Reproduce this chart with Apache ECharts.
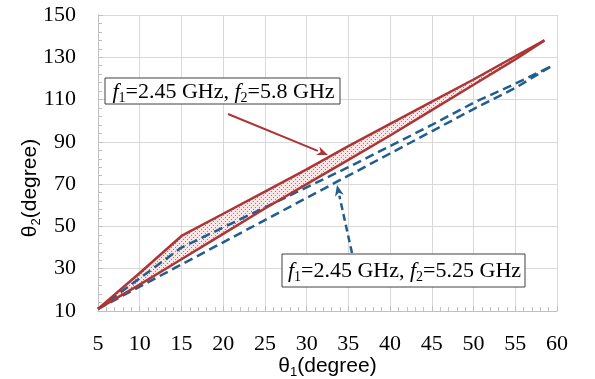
<!DOCTYPE html>
<html>
<head>
<meta charset="utf-8">
<script src="https://cdn.jsdelivr.net/npm/echarts@6/dist/echarts.min.js"></script>
<style>
  html, body { margin: 0; padding: 0; background: #fff; }
  #chart { width: 595px; height: 379px; }
</style>
</head>
<body>
<div id="chart"></div>
<script>
// theta1 samples and theta2 values
const RED_X = [5, 10, 15, 20, 25, 30, 35, 40, 45, 50, 55, 58.5];
const RED_UPPER = [11, 28, 45.5, 56, 66.5, 77, 88, 98.5, 109, 119.5, 130.5, 138];
const RED_LOWER = [11, 22.5, 34.5, 46.5, 58.5, 70, 81.5, 93, 105, 117, 129, 138];

const BLUE_X = [5, 10, 15, 20, 25, 30, 35, 40, 45, 50, 55, 59.2];
const BLUE_UPPER = [11, 25.5, 40, 49.5, 59, 68.5, 78, 88, 98, 108.5, 117.5, 125.5];
const BLUE_LOWER = [11, 21.5, 32, 42.5, 53, 63.5, 74, 84.5, 95, 105.5, 115.5, 125.5];

const Y_TICKS = [10, 30, 50, 70, 90, 110, 130, 150];
const RED_LABEL = "{i|f}{s|1}=2.45 GHz, {i|f}{s|2}=5.8 GHz";
const BLUE_LABEL = "{i|f}{s|1}=2.45 GHz, {i|f}{s|2}=5.25 GHz";

const RED = "#ad3535";
const BLUE = "#215d8f";
const GRID_COLOR = "#d9d9d9";
const AXIS_COLOR = "#bfbfbf";
const SERIF = "'Liberation Serif', 'Times New Roman', serif";
const SANS = "'Liberation Sans', Arial, sans-serif";

// minor ticks on the y axis: 5 divisions between labelled ticks
const yMinor = [];
for (let i = 0; i < Y_TICKS.length - 1; i++) {
  const step = (Y_TICKS[i + 1] - Y_TICKS[i]) / 5;
  for (let k = 1; k < 5; k++) yMinor.push(Y_TICKS[i] + k * step);
}

function pairs(xs, ys) {
  return xs.map((x, i) => [x, ys[i]]);
}

// dotted fill for the band between the red curves
function dotPattern() {
  const c = document.createElement("canvas");
  c.width = 4;
  c.height = 4;
  const ctx = c.getContext("2d");
  ctx.fillStyle = "#f7e6e6";
  ctx.fillRect(0, 0, 4, 4);
  ctx.fillStyle = "#b87272";
  ctx.fillRect(1, 1, 1, 1);
  ctx.fillRect(3, 3, 1, 1);
  return c;
}
const pattern = { image: dotPattern(), repeat: "repeat" };

function arrow(x1, y1, x2, y2, color, dashed) {
  const ang = Math.atan2(y2 - y1, x2 - x1);
  const len = 11, half = 4.5;
  const bx = x2 - Math.cos(ang) * len, by = y2 - Math.sin(ang) * len;
  const nx = -Math.sin(ang) * half, ny = Math.cos(ang) * half;
  return {
    type: "group",
    z: 100,
    children: [
      {
        type: "line",
        z: 100,
        shape: { x1: x1, y1: y1, x2: bx, y2: by },
        style: { stroke: color, lineWidth: dashed ? 2.5 : 2, lineDash: dashed ? [7, 4] : null },
      },
      {
        type: "polygon",
        z: 100,
        shape: { points: [[x2, y2], [bx + nx, by + ny], [bx + Math.cos(ang) * 3, by + Math.sin(ang) * 3], [bx - nx, by - ny]] },
        style: { fill: color },
      },
    ],
  };
}

function labelBox(x, y, w, h, text) {
  const rich = {
    i: { fontFamily: SERIF, fontSize: 22, fontStyle: "italic", lineHeight: 26 },
    s: { fontFamily: SERIF, fontSize: 14, verticalAlign: "bottom", lineHeight: 14 },
  };
  return {
    type: "group",
    z: 100,
    children: [
      {
        type: "rect",
        z: 100,
        shape: { x: x, y: y, width: w, height: h },
        style: { fill: "#fff", stroke: "#404040", lineWidth: 1 },
      },
      {
        type: "text",
        z: 101,
        x: x + w / 2 + 1,
        y: y + h / 2 + 1,
        style: {
          text: text,
          rich: rich,
          fontFamily: SERIF,
          fontSize: 22,
          lineHeight: 26,
          fill: "#000",
          align: "center",
          verticalAlign: "middle",
        },
      },
    ],
  };
}

const chart = echarts.init(document.getElementById("chart"), null, { renderer: "canvas" });

chart.setOption({
  animation: false,
  backgroundColor: "#fff",
  grid: { left: 98, right: 38, top: 15, bottom: 68, containLabel: false, outerBoundsMode: "none" },
  xAxis: {
    type: "value",
    min: 5,
    max: 60,
    interval: 5,
    name: "{t|θ}{s|1}{t|(degree)}",
    nameLocation: "middle",
    nameGap: 42,
    nameMoveOverlap: false,
    nameTextStyle: {
      rich: {
        t: { fontFamily: SANS, fontSize: 21, color: "#000", lineHeight: 26 },
        s: { fontFamily: SANS, fontSize: 13, color: "#000", verticalAlign: "bottom", lineHeight: 13 },
      },
    },
    axisLine: { lineStyle: { color: AXIS_COLOR, width: 1 } },
    axisTick: { show: true, inside: true, length: 5, lineStyle: { color: AXIS_COLOR } },
    minorTick: { show: true, splitNumber: 5, length: 4, lineStyle: { color: AXIS_COLOR } },
    splitLine: { show: true, lineStyle: { color: GRID_COLOR, width: 1 } },
    axisLabel: { fontFamily: SERIF, fontSize: 22, color: "#000", margin: 22 },
  },
  yAxis: [
    {
      type: "value",
      min: 10,
      max: 150,
      position: "left",
      name: "{t|θ}{s|2}{t|(degree)}",
      nameLocation: "middle",
      nameRotate: 90,
      nameGap: 55,
      nameMoveOverlap: false,
      nameTextStyle: {
        padding: [0, 50, 0, 0],
        rich: {
          t: { fontFamily: SANS, fontSize: 21, color: "#000", lineHeight: 26 },
          s: { fontFamily: SANS, fontSize: 13, color: "#000", verticalAlign: "bottom", lineHeight: 13 },
        },
      },
      axisLine: { show: true, lineStyle: { color: AXIS_COLOR, width: 1 } },
      axisTick: { show: true, inside: true, length: 5, customValues: Y_TICKS, lineStyle: { color: AXIS_COLOR } },
      splitLine: { show: true, lineStyle: { color: GRID_COLOR, width: 1 } },
      axisLabel: { fontFamily: SERIF, fontSize: 22, color: "#000", margin: 22, customValues: Y_TICKS },
    },
    {
      type: "value",
      min: 10,
      max: 150,
      position: "left",
      offset: 0,
      axisLine: { show: false },
      axisTick: { show: true, inside: true, length: 4, customValues: yMinor, lineStyle: { color: AXIS_COLOR } },
      axisLabel: { show: false },
      splitLine: { show: false },
    },
  ],
  series: [
    {
      // shaded band between the two red curves, placed through the axes
      name: "band",
      type: "custom",
      data: [0],
      silent: true,
      z: 1,
      renderItem: function (params, api) {
        const top = RED_X.map((x, i) => api.coord([x, RED_UPPER[i]]));
        const bottom = RED_X.map((x, i) => api.coord([x, RED_LOWER[i]])).reverse();
        return {
          type: "polygon",
          shape: { points: top.concat(bottom) },
          style: { fill: pattern, stroke: null },
        };
      },
    },
    {
      name: "f2=5.25 GHz upper",
      type: "line",
      data: pairs(BLUE_X, BLUE_UPPER),
      symbol: "none",
      lineStyle: { color: BLUE, width: 2.5, type: [9, 5] },
      z: 3,
    },
    {
      name: "f2=5.25 GHz lower",
      type: "line",
      data: pairs(BLUE_X, BLUE_LOWER),
      symbol: "none",
      lineStyle: { color: BLUE, width: 2.5, type: [9, 5] },
      z: 3,
    },
    {
      name: "f2=5.8 GHz upper",
      type: "line",
      data: pairs(RED_X, RED_UPPER),
      symbol: "none",
      lineStyle: { color: RED, width: 2.5 },
      z: 4,
    },
    {
      name: "f2=5.8 GHz lower",
      type: "line",
      data: pairs(RED_X, RED_LOWER),
      symbol: "none",
      lineStyle: { color: RED, width: 2.5 },
      z: 4,
    },
  ],
  graphic: [
    arrow(228, 114, 328, 155, RED, false),
    arrow(352, 253, 337, 185, BLUE, true),
    labelBox(105, 78, 235, 26, RED_LABEL),
    labelBox(282, 254, 243, 33, BLUE_LABEL),
  ],
});
</script>
</body>
</html>
